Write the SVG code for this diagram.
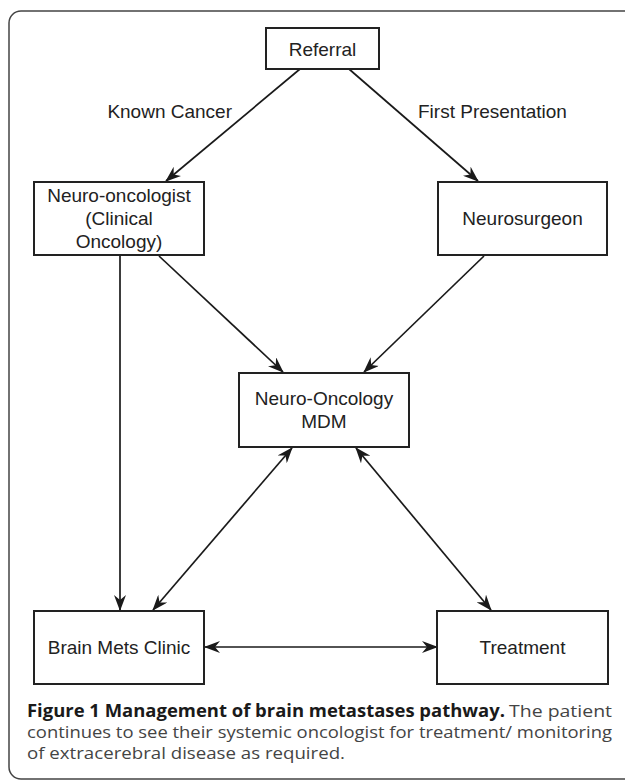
<svg xmlns="http://www.w3.org/2000/svg" width="625" height="780" viewBox="0 0 625 780">
<defs>
<style>
.box{fill:#fff;stroke:#222;stroke-width:2}
.lbl{font-family:"Liberation Sans",Arial,sans-serif;font-size:19px;fill:#222;text-anchor:middle}
.elbl{font-family:"Liberation Sans",Arial,sans-serif;font-size:19px;fill:#222}
.con{fill:none;stroke:#1a1a1a;stroke-width:1.7}
.cap{font-family:"Open Sans","Noto Sans",sans-serif;font-size:17px}
</style>
<marker id="ah" viewBox="0 0 16 12" refX="15" refY="6" markerWidth="16" markerHeight="12" markerUnits="userSpaceOnUse" orient="auto-start-reverse">
<path d="M0,0 L16,6 L0,12 L5,6 Z" fill="#1a1a1a"/>
</marker>
</defs>
<rect x="9" y="11" width="640" height="768" rx="12" fill="none" stroke="#444" stroke-width="1.5"/>
<g id="connectors">
<line class="con" x1="300" y1="69" x2="166" y2="181" marker-end="url(#ah)"/>
<line class="con" x1="349" y1="69" x2="478" y2="181" marker-end="url(#ah)"/>
<line class="con" x1="159" y1="256" x2="283" y2="372" marker-end="url(#ah)"/>
<line class="con" x1="484" y1="256" x2="364" y2="372" marker-end="url(#ah)"/>
<line class="con" x1="120" y1="256" x2="120" y2="610" marker-end="url(#ah)"/>
<line class="con" x1="292" y1="448" x2="153" y2="610" marker-start="url(#ah)" marker-end="url(#ah)"/>
<line class="con" x1="356" y1="448" x2="491" y2="610" marker-start="url(#ah)" marker-end="url(#ah)"/>
<line class="con" x1="205" y1="647" x2="437" y2="647" marker-start="url(#ah)" marker-end="url(#ah)"/>
<text class="elbl" x="232" y="118" text-anchor="end">Known Cancer</text>
<text class="elbl" x="418" y="118">First Presentation</text>
</g>
<g id="referral">
<rect class="box" x="266" y="28" width="113" height="41"/>
<text class="lbl" x="322.5" y="55.5">Referral</text>
</g>
<g id="neuro-oncologist">
<rect class="box" x="34" y="182" width="170" height="73"/>
<text class="lbl" x="119" y="202">Neuro-oncologist</text>
<text class="lbl" x="119" y="225">(Clinical</text>
<text class="lbl" x="119" y="248">Oncology)</text>
</g>
<g id="neurosurgeon">
<rect class="box" x="438" y="182" width="169" height="73"/>
<text class="lbl" x="522.5" y="225">Neurosurgeon</text>
</g>
<g id="mdm">
<rect class="box" x="239" y="373" width="170" height="74"/>
<text class="lbl" x="324" y="405">Neuro-Oncology</text>
<text class="lbl" x="324" y="428">MDM</text>
</g>
<g id="brain-mets-clinic">
<rect class="box" x="34" y="611" width="170" height="73"/>
<text class="lbl" x="119" y="654">Brain Mets Clinic</text>
</g>
<g id="treatment">
<rect class="box" x="437" y="611" width="171" height="73"/>
<text class="lbl" x="522.5" y="654">Treatment</text>
</g>
<g id="caption">
<text class="cap" x="27" y="717" font-weight="bold" fill="#1a1a1a" textLength="478" lengthAdjust="spacingAndGlyphs">Figure 1 Management of brain metastases pathway.</text>
<text class="cap" x="509" y="717" fill="#444" textLength="103" lengthAdjust="spacingAndGlyphs">The patient</text>
<text class="cap" x="27" y="738" fill="#444" textLength="585" lengthAdjust="spacingAndGlyphs">continues to see their systemic oncologist for treatment/ monitoring</text>
<text class="cap" x="27" y="759" fill="#444" textLength="318" lengthAdjust="spacingAndGlyphs">of extracerebral disease as required.</text>
</g>
</svg>
